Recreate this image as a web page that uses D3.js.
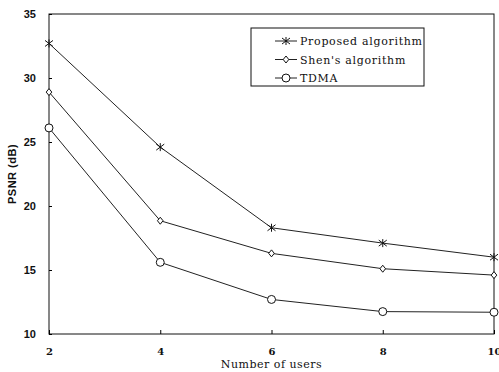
<!DOCTYPE html>
<html>
<head>
<meta charset="utf-8">
<script src="https://cdn.jsdelivr.net/npm/d3@7"></script>
<style>
  body { margin: 0; background: #fff; }
  svg { display: block; }
</style>
</head>
<body>
<script>
var users = [2, 4, 6, 8, 10];
var proposed = [32.7, 24.6, 18.3, 17.1, 16.0];
var shen = [28.9, 18.85, 16.3, 15.1, 14.6];
var tdma = [26.1, 15.6, 12.7, 11.75, 11.7];
var seriesNames = ['Proposed algorithm', "Shen's algorithm", 'TDMA'];
var yTicks = [10, 15, 20, 25, 30, 35];

var w = 499;
var h = 372;
var margin = {top: 14, right: 5, bottom: 38, left: 49};

var svg = d3.select('body')
  .append('svg')
  .attr('width', w)
  .attr('height', h);

var xScale = d3.scaleLinear()
  .domain([2, 10])
  .range([margin.left, w - margin.right]);

var yScale = d3.scaleLinear()
  .domain([10, 35])
  .range([h - margin.bottom, margin.top]);

// frame
svg.append('rect')
  .attr('x', xScale(2))
  .attr('y', yScale(35))
  .attr('width', xScale(10) - xScale(2))
  .attr('height', yScale(10) - yScale(35))
  .attr('fill', 'none')
  .attr('stroke', '#111')
  .attr('stroke-width', 1);

var xAxis = d3.axisBottom(xScale)
  .tickValues(users)
  .tickSizeInner(-4)
  .tickSizeOuter(0)
  .tickPadding(14);

var yAxis = d3.axisLeft(yScale)
  .tickValues(yTicks)
  .tickSizeInner(-3)
  .tickSizeOuter(0)
  .tickPadding(13);

var gx = svg.append('g')
  .attr('transform', 'translate(0,' + yScale(10) + ')')
  .call(xAxis);
gx.select('.domain').remove();
gx.selectAll('text')
  .attr('font-family', 'DejaVu Serif')
  .attr('font-weight', 'bold')
  .attr('font-size', '10px')
  .attr('fill', '#111');

var gy = svg.append('g')
  .attr('transform', 'translate(' + xScale(2) + ',0)')
  .call(yAxis);
gy.select('.domain').remove();
gy.selectAll('text')
  .attr('font-family', 'Liberation Sans')
  .attr('font-weight', 'bold')
  .attr('font-size', '11px')
  .attr('fill', '#111');

svg.append('text')
  .text('Number of users')
  .attr('x', (xScale(2) + xScale(10)) / 2)
  .attr('y', h - 4)
  .attr('text-anchor', 'middle')
  .attr('font-family', 'DejaVu Serif')
  .attr('font-size', '11px')
  .attr('letter-spacing', '0.5px')
  .attr('fill', '#111');

svg.append('text')
  .text('PSNR (dB)')
  .attr('transform', 'translate(16,' + 174 + ') rotate(-90)')
  .attr('text-anchor', 'middle')
  .attr('font-family', 'Liberation Sans')
  .attr('font-weight', 'bold')
  .attr('font-size', '11px')
  .attr('letter-spacing', '0.5px')
  .attr('fill', '#111');

var line = d3.line()
  .x(function(d, i){ return xScale(users[i]); })
  .y(function(d){ return yScale(d); });

var allSeries = [proposed, shen, tdma];
var symbols = ['star', 'diamond', 'circle'];

function drawMarker(g, type, x, y) {
  if (type === 'star') {
    var r = 4;
    g.append('path')
      .attr('d', 'M' + (x - r) + ',' + (y - r * 0.75) + 'L' + (x + r) + ',' + (y + r * 0.75) +
                 'M' + (x - r) + ',' + (y + r * 0.75) + 'L' + (x + r) + ',' + (y - r * 0.75) +
                 'M' + x + ',' + (y - r) + 'L' + x + ',' + (y + r))
      .attr('stroke', '#111')
      .attr('stroke-width', 1)
      .attr('fill', 'none');
  } else if (type === 'diamond') {
    var d = 3.5;
    g.append('path')
      .attr('d', 'M' + x + ',' + (y - d) + 'L' + (x + d * 0.8) + ',' + y + 'L' + x + ',' + (y + d) + 'L' + (x - d * 0.8) + ',' + y + 'Z')
      .attr('stroke', '#111')
      .attr('stroke-width', 1)
      .attr('fill', 'white');
  } else {
    g.append('circle')
      .attr('cx', x)
      .attr('cy', y)
      .attr('r', 4)
      .attr('stroke', '#111')
      .attr('stroke-width', 1)
      .attr('fill', 'white');
  }
}

allSeries.forEach(function(s, k){
  svg.append('path')
    .datum(s)
    .attr('d', line)
    .attr('fill', 'none')
    .attr('stroke', '#222')
    .attr('stroke-width', 1);
  var g = svg.append('g');
  s.forEach(function(v, i){
    drawMarker(g, symbols[k], xScale(users[i]), yScale(v));
  });
});

// legend
var legend = svg.append('g');
legend.append('rect')
  .attr('x', 251)
  .attr('y', 28)
  .attr('width', 173)
  .attr('height', 58)
  .attr('fill', 'white')
  .attr('stroke', '#111')
  .attr('stroke-width', 1);

seriesNames.forEach(function(name, k){
  var ly = 41 + k * 18.5;
  legend.append('line')
    .attr('x1', 275)
    .attr('x2', 297)
    .attr('y1', ly)
    .attr('y2', ly)
    .attr('stroke', '#222')
    .attr('stroke-width', 1);
  drawMarker(legend, symbols[k], 286, ly);
  legend.append('text')
    .text(name)
    .attr('x', 300)
    .attr('y', ly + 4)
    .attr('font-family', 'DejaVu Serif')
    .attr('font-size', '11px')
    .attr('letter-spacing', '0.7px')
    .attr('fill', '#111');
});
</script>
</body>
</html>
